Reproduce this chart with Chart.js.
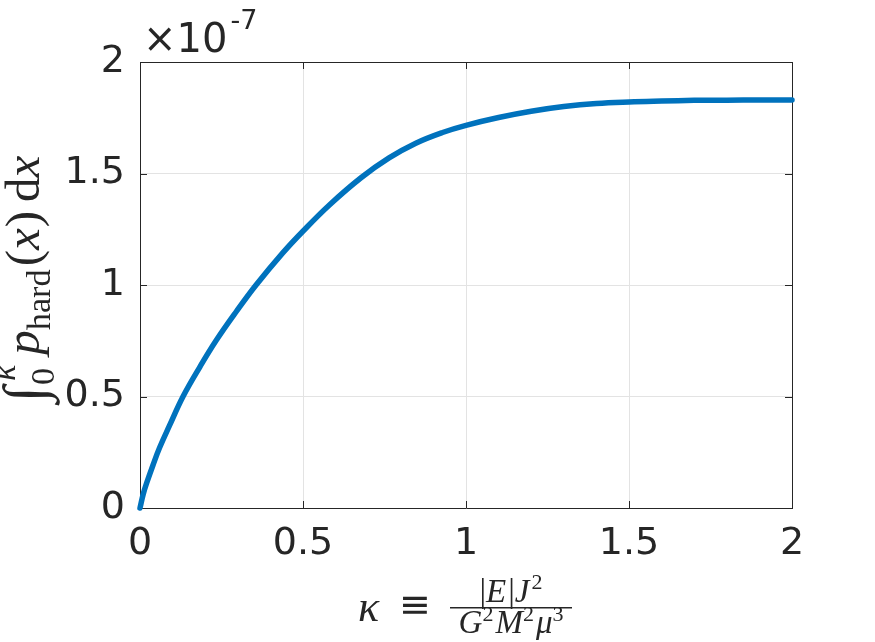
<!DOCTYPE html>
<html lang="en">
<head>
    <meta charset="UTF-8">
    <title>Cumulative hard probability</title>
    <script src="https://cdn.jsdelivr.net/npm/chart.js"></script>
    <style>
        html, body { margin: 0; padding: 0; background: #fff; }
        #chart { display: block; }
    </style>
</head>
<body>
    <canvas id="chart" width="875" height="642"></canvas>

    <script>
        // kappa values and the cumulative integral (in units of 1e-7)
        const kappa = [0, 0.01, 0.02, 0.04, 0.06, 0.09, 0.132, 0.183, 0.234, 0.295, 0.356, 0.438,
                       0.499, 0.581, 0.678, 0.764, 0.846, 0.928, 1.0, 1.1, 1.2, 1.3, 1.4, 1.5,
                       1.6, 1.7, 1.8, 1.9, 2.0];
        const cumProb = [0, 0.063, 0.11, 0.193, 0.27, 0.368, 0.5, 0.631, 0.752, 0.88, 1.0, 1.144,
                         1.24, 1.359, 1.481, 1.57, 1.636, 1.684, 1.716, 1.751, 1.779, 1.8, 1.814, 1.821,
                         1.825, 1.828, 1.829, 1.83, 1.83];
        const xTicks = [0, 0.5, 1, 1.5, 2];
        const yTicks = [0, 0.5, 1, 1.5, 2];
        const yExponent = '-7';

        const TEXT = '#262626';
        const SANS = 'DejaVu Sans';
        const SERIF = 'Liberation Serif';

        // draw a row of text runs; stacked runs share one x position
        function runWidth(ctx, r) {
            if (r.stack) {
                return Math.max(...r.stack.map(s => { ctx.font = s.f; return ctx.measureText(s.t).width + (s.dx || 0); }));
            }
            ctx.font = r.f;
            return ctx.measureText(r.t).width + (r.dx || 0);
        }
        function drawRuns(ctx, runs, x, y) {
            runs.forEach(r => {
                x += r.pre || 0;
                if (r.stack) {
                    r.stack.forEach(s => { ctx.font = s.f; ctx.fillText(s.t, x + (s.dx || 0), y + (s.dy || 0)); });
                    x += runWidth(ctx, r);
                } else {
                    ctx.font = r.f;
                    ctx.fillText(r.t, x, y + (r.dy || 0));
                    x += ctx.measureText(r.t).width + (r.dx || 0);
                }
            });
        }
        function totalWidth(ctx, runs) {
            return runs.reduce((a, r) => a + runWidth(ctx, r) + (r.pre || 0), 0);
        }

        const matlabAxes = {
            id: 'matlabAxes',
            beforeDatasetsDraw(chart) {
                const { ctx, chartArea: a, scales } = chart;
                ctx.save();
                ctx.strokeStyle = TEXT;
                ctx.lineWidth = 1;
                // box
                ctx.beginPath();
                ctx.moveTo(a.left, a.top + 0.5);
                ctx.lineTo(a.right + 0.5, a.top + 0.5);
                ctx.lineTo(a.right + 0.5, a.bottom);
                ctx.stroke();
                // inward ticks on all four sides
                const tl = 7;
                ctx.beginPath();
                xTicks.forEach(v => {
                    const px = Math.round(scales.x.getPixelForValue(v)) + 0.5;
                    ctx.moveTo(px, a.bottom); ctx.lineTo(px, a.bottom - tl);
                    ctx.moveTo(px, a.top); ctx.lineTo(px, a.top + tl);
                });
                yTicks.forEach(v => {
                    const py = Math.round(scales.y.getPixelForValue(v)) + 0.5;
                    ctx.moveTo(a.left, py); ctx.lineTo(a.left + tl, py);
                    ctx.moveTo(a.right, py); ctx.lineTo(a.right - tl, py);
                });
                ctx.stroke();
                ctx.restore();
            },
            afterDraw(chart) {
                const { ctx, chartArea: a } = chart;
                ctx.save();
                ctx.fillStyle = TEXT;
                ctx.textBaseline = 'alphabetic';
                ctx.textAlign = 'left';

                // exponent label
                ctx.font = `40px ${SANS}`;
                ctx.fillText('\u00d710', a.left + 3, a.top - 10);
                const w10 = ctx.measureText('\u00d710').width;
                ctx.font = `27px ${SANS}`;
                ctx.fillText(yExponent, a.left + 3 + w10 + 3, a.top - 33);

                // y label: \int_0^\kappa p_{hard}(x) dx
                const S = 49;
                const it = s => `italic ${s}px ${SERIF}`;
                const rm = s => `${s}px ${SERIF}`;
                const yRuns = [
                    { t: '\u222b', f: rm(S * 1.2), dy: S * 0.1, dx: 1 },
                    { stack: [{ t: '0', f: rm(S * 0.7), dy: S * 0.3 }, { t: '\u03ba', f: it(S * 0.7), dy: -S * 0.5, dx: 4 }] },
                    { t: 'p', f: it(S), pre: S * 0.2 },
                    { t: 'hard', f: rm(S * 0.7), dy: S * 0.22, dx: 3 },
                    { t: '(', f: rm(S) },
                    { t: 'x', f: it(S), dx: 1 },
                    { t: ')', f: rm(S), dx: S * 0.18 },
                    { t: 'd', f: rm(S) },
                    { t: 'x', f: it(S) }
                ];
                const yw = totalWidth(ctx, yRuns);
                const yc = (a.top + a.bottom) / 2 - 6;
                ctx.save();
                ctx.translate(39, yc);
                ctx.rotate(-Math.PI / 2);
                drawRuns(ctx, yRuns, -yw / 2, 0);
                ctx.restore();

                // x label: kappa == |E|J^2 / (G^2 M^2 mu^3)
                const cx = (a.left + a.right) / 2;
                ctx.font = it(44);
                ctx.fillText('\u03ba', cx - 108, 621);
                ctx.font = `38px ${SANS}`;
                ctx.textAlign = 'center';
                ctx.textBaseline = 'middle';
                ctx.fillText('\u2261', cx - 51, 607);
                ctx.textAlign = 'left';
                ctx.textBaseline = 'alphabetic';
                ctx.fillRect(cx - 16, 607, 122, 1.5);
                const F = 33, P = 22;
                const num = [
                    { t: '|', f: rm(F) }, { t: 'E', f: it(F), dx: 2 }, { t: '|', f: rm(F) },
                    { t: 'J', f: it(F), dx: 2 }, { t: '2', f: rm(P), dy: -13 }
                ];
                const den = [
                    { t: 'G', f: it(F) }, { t: '2', f: rm(P), dy: -12, dx: 2 },
                    { t: 'M', f: it(F) }, { t: '2', f: rm(P), dy: -12, dx: 2 },
                    { t: '\u03bc', f: it(F) }, { t: '3', f: rm(P), dy: -12 }
                ];
                const fc = cx + 45;
                drawRuns(ctx, num, fc - totalWidth(ctx, num) / 2, 602);
                drawRuns(ctx, den, fc - totalWidth(ctx, den) / 2, 633);
                ctx.restore();
            }
        };

        window.addEventListener('load', () => {
            const ctx = document.getElementById('chart').getContext('2d');
            new Chart(ctx, {
                type: 'line',
                data: {
                    datasets: [{
                        data: kappa.map((k, i) => ({ x: k, y: cumProb[i] })),
                        borderColor: '#0072BD',
                        borderWidth: 5.5,
                        borderCapStyle: 'round',
                        borderJoinStyle: 'round',
                        pointRadius: 0,
                        tension: 0.4,
                        fill: false,
                        clip: false
                    }]
                },
                options: {
                    responsive: false,
                    devicePixelRatio: 1,
                    animation: false,
                    events: [],
                    layout: { padding: { top: 62, right: 83, left: 0, bottom: 0 } },
                    plugins: {
                        legend: { display: false },
                        tooltip: { enabled: false }
                    },
                    scales: {
                        x: {
                            type: 'linear',
                            min: 0,
                            max: 2,
                            afterBuildTicks: s => { s.ticks = xTicks.map(v => ({ value: v })); },
                            afterFit: s => { s.height = 134; },
                            ticks: {
                                color: TEXT,
                                font: { family: SANS, size: 38 },
                                padding: 13,
                                maxRotation: 0,
                                callback: v => String(v)
                            },
                            grid: { color: '#e3e3e3', drawTicks: false },
                            border: { color: TEXT, width: 1 }
                        },
                        y: {
                            type: 'linear',
                            min: 0,
                            max: 2,
                            afterBuildTicks: s => { s.ticks = yTicks.map(v => ({ value: v })); },
                            afterFit: s => { s.width = 140; },
                            ticks: {
                                color: TEXT,
                                font: { family: SANS, size: 38 },
                                padding: 15,
                                callback: v => String(v)
                            },
                            grid: { color: '#e3e3e3', drawTicks: false },
                            border: { color: TEXT, width: 1 }
                        }
                    }
                },
                plugins: [matlabAxes]
            });
        });
    </script>
</body>
</html>
